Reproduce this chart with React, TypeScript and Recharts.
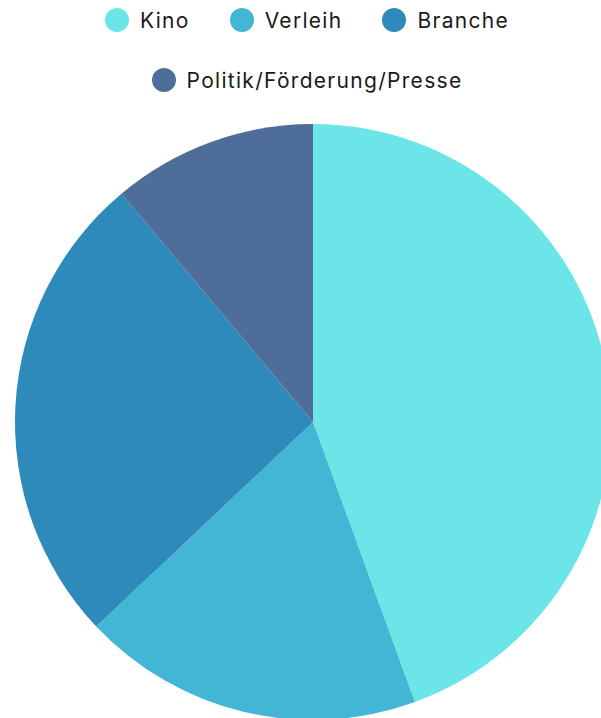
import React from "react";
import { PieChart, Pie, Cell } from "recharts";

const categories = ["Kino", "Verleih", "Branche", "Politik/Förderung/Presse"];
const values = [12, 5, 7, 3];
const colors = ["#6be5e8", "#42b6d4", "#2e8aba", "#4f6d99"];

const data = categories.map((name, i) => ({ name, value: values[i] }));

const legendRows = [[0, 1, 2], [3]];

function LegendItem({ i }: { i: number }) {
  return (
    <div style={{ display: "flex", alignItems: "center", height: 24 }}>
      <span
        style={{
          width: 24,
          height: 24,
          borderRadius: 12,
          background: colors[i],
          display: "inline-block",
          marginRight: 11,
        }}
      />
      <span>{categories[i]}</span>
    </div>
  );
}

export default function App() {
  return (
    <div
      style={{
        position: "absolute",
        top: 0,
        left: 0,
        width: 601,
        height: 718,
        overflow: "hidden",
        background: "#fff",
      }}
    >
      <div style={{ position: "absolute", top: 0, left: 0 }}>
        <PieChart
          width={640}
          height={760}
          margin={{ top: 0, right: 0, bottom: 0, left: 0 }}
        >
          <Pie
            data={data}
            dataKey="value"
            nameKey="name"
            cx={313}
            cy={422}
            outerRadius={298}
            startAngle={90}
            endAngle={-270}
            stroke="none"
            isAnimationActive={false}
          >
            {data.map((d, i) => (
              <Cell key={d.name} fill={colors[i]} />
            ))}
          </Pie>
        </PieChart>
      </div>
      <div
        style={{
          position: "absolute",
          top: 8,
          left: 0,
          width: 614,
          fontFamily: "Inter, 'Open Sans', sans-serif",
          fontSize: 21,
          letterSpacing: 1.3,
          color: "#1a1a1a",
          display: "flex",
          flexDirection: "column",
          rowGap: 36,
        }}
      >
        {legendRows.map((row, r) => (
          <div
            key={r}
            style={{ display: "flex", justifyContent: "center", columnGap: 40 }}
          >
            {row.map((i) => (
              <LegendItem key={i} i={i} />
            ))}
          </div>
        ))}
      </div>
    </div>
  );
}
